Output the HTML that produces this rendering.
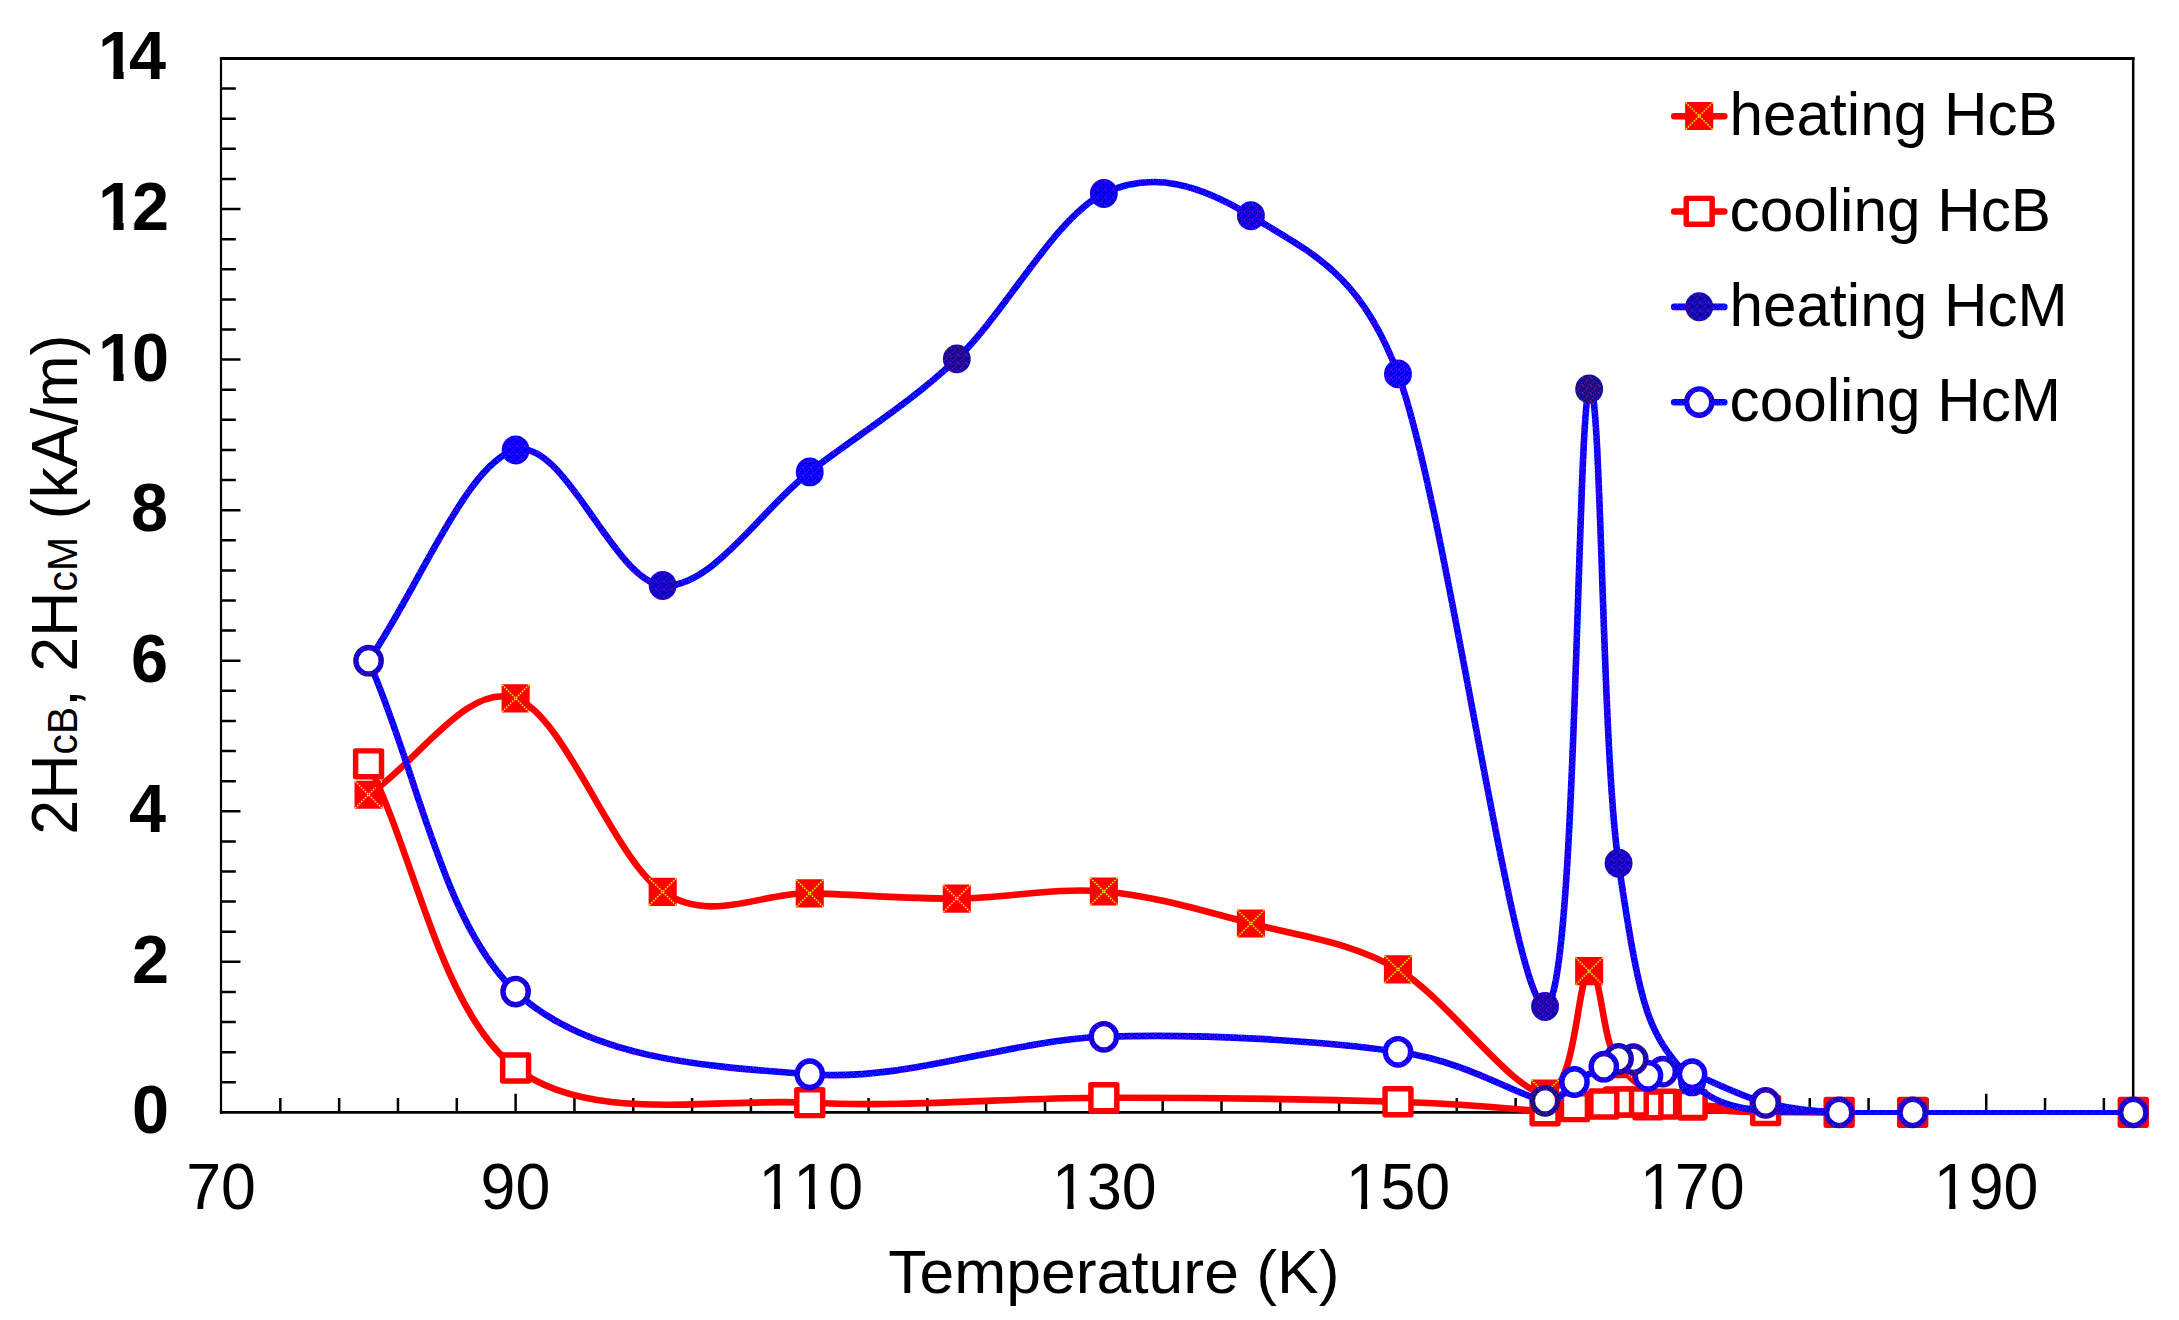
<!DOCTYPE html>
<html lang="en"><head><meta charset="utf-8"><title>Coercivity vs Temperature</title>
<style>html,body{margin:0;padding:0;background:#fff;}body{width:2179px;height:1320px;overflow:hidden;}svg{display:block;}text{font-family:"Liberation Sans",Arial,Helvetica,sans-serif;fill:#000;}.n{font-kerning:none;}</style></head><body>
<svg width="2179" height="1320" viewBox="0 0 2179 1320">
<defs>
<pattern id="bl" width="8" height="8" patternUnits="userSpaceOnUse"><rect width="8" height="8" fill="#0000ff"/><rect x="5" y="0" width="1" height="1" fill="#8000ff"/><rect x="1" y="1" width="1" height="1" fill="#000068"/><rect x="3" y="1" width="1" height="1" fill="#b000b0"/><rect x="5" y="1" width="1" height="1" fill="#000068"/><rect x="7" y="1" width="1" height="1" fill="#5a0048"/><rect x="0" y="3" width="1" height="1" fill="#6000ff"/><rect x="1" y="3" width="1" height="1" fill="#b000b0"/><rect x="3" y="3" width="1" height="1" fill="#00003a"/><rect x="5" y="3" width="1" height="1" fill="#000068"/><rect x="6" y="3" width="1" height="1" fill="#8000ff"/><rect x="7" y="3" width="1" height="1" fill="#000068"/><rect x="1" y="4" width="1" height="1" fill="#8000ff"/><rect x="4" y="4" width="1" height="1" fill="#6000ff"/><rect x="1" y="5" width="1" height="1" fill="#00003a"/><rect x="2" y="5" width="1" height="1" fill="#8000ff"/><rect x="3" y="5" width="1" height="1" fill="#5a0048"/><rect x="5" y="5" width="1" height="1" fill="#00003a"/><rect x="7" y="5" width="1" height="1" fill="#5a0048"/><rect x="6" y="6" width="1" height="1" fill="#8000ff"/><rect x="1" y="7" width="1" height="1" fill="#000068"/><rect x="3" y="7" width="1" height="1" fill="#00003a"/><rect x="5" y="7" width="1" height="1" fill="#5a0048"/><rect x="7" y="7" width="1" height="1" fill="#00003a"/></pattern>
<g id="fs"><rect x="-14.05" y="-14.05" width="28.1" height="28.1" rx="0.8" fill="#ff0000"/><path d="M-13.5 -13.5L13.5 13.5M13.5 -13.5L-13.5 13.5" stroke="#f4f400" stroke-width="1.5" stroke-dasharray="1.6 1.2" fill="none"/></g>
<rect id="os" x="-12.95" y="-12.95" width="25.9" height="25.9" fill="#fff" stroke="#ff0000" stroke-width="5.45" stroke-linejoin="round"/>
<ellipse id="fc" rx="13.95" ry="14.45" fill="url(#bl)"/>
<ellipse id="oc" rx="12.65" ry="13.2" fill="#fff" stroke="url(#bl)" stroke-width="5.4"/>
</defs>
<rect width="2179" height="1320" fill="#fff"/>
<g stroke="#000" fill="none" stroke-linecap="butt">
<line x1="221" y1="57" x2="221" y2="1113.8" stroke-width="2.2"/>
<line x1="219.9" y1="1112.4" x2="2134.5" y2="1112.4" stroke-width="2.7"/>
<line x1="219.9" y1="58.5" x2="2134.5" y2="58.5" stroke-width="3"/>
<line x1="2133.2" y1="57" x2="2133.2" y2="1113.8" stroke-width="2.5"/>
<path d="M221 1082.29H235.8M221 1052.18H235.8M221 1022.06H235.8M221 991.95H235.8M221 961.84H240.5M221 931.73H235.8M221 901.62H235.8M221 871.50H235.8M221 841.39H235.8M221 811.28H240.5M221 781.17H235.8M221 751.06H235.8M221 720.94H235.8M221 690.83H235.8M221 660.72H240.5M221 630.61H235.8M221 600.50H235.8M221 570.38H235.8M221 540.27H235.8M221 510.16H240.5M221 480.05H235.8M221 449.94H235.8M221 419.82H235.8M221 389.71H235.8M221 359.60H240.5M221 329.49H235.8M221 299.38H235.8M221 269.26H235.8M221 239.15H235.8M221 209.04H240.5M221 178.93H235.8M221 148.82H235.8M221 118.70H235.8M221 88.59H235.8M280.32 1112.4V1098.0M339.15 1112.4V1098.0M397.97 1112.4V1098.0M456.80 1112.4V1098.0M515.62 1112.4V1093.8M574.44 1112.4V1098.0M633.27 1112.4V1098.0M692.09 1112.4V1098.0M750.92 1112.4V1098.0M809.74 1112.4V1093.8M868.56 1112.4V1098.0M927.39 1112.4V1098.0M986.21 1112.4V1098.0M1045.04 1112.4V1098.0M1103.86 1112.4V1093.8M1162.68 1112.4V1098.0M1221.51 1112.4V1098.0M1280.33 1112.4V1098.0M1339.16 1112.4V1098.0M1397.98 1112.4V1093.8M1456.80 1112.4V1098.0M1515.63 1112.4V1098.0M1574.45 1112.4V1098.0M1633.28 1112.4V1098.0M1692.10 1112.4V1093.8M1750.92 1112.4V1098.0M1809.75 1112.4V1098.0M1868.57 1112.4V1098.0M1927.40 1112.4V1098.0M1986.22 1112.4V1093.8M2045.04 1112.4V1098.0M2103.87 1112.4V1098.0" stroke-width="2.5"/>
</g>
<path d="M368.56 794.72C417.58 762.60 466.60 682.17 515.62 698.36C564.64 714.55 613.66 859.33 662.68 891.83C711.70 924.33 760.72 892.21 809.74 893.34C858.76 894.46 907.78 898.92 956.80 898.60C1005.82 898.29 1054.84 887.31 1103.86 891.45C1152.88 895.59 1201.90 910.46 1250.92 923.45C1299.94 936.43 1348.96 941.01 1397.98 969.37C1447.00 997.72 1513.18 1093.28 1545.04 1093.58C1576.90 1093.88 1576.90 976.07 1589.16 971.17C1601.41 966.28 1601.41 1041.62 1618.57 1064.22C1635.73 1086.82 1655.34 1098.72 1692.10 1106.75C1728.86 1114.78 1802.39 1111.46 1839.16 1112.40" fill="none" stroke="#ff0000" stroke-width="6.6" stroke-linejoin="round" stroke-linecap="round"/>
<path d="M1839.16 1112.50L1912.69 1112.50L2133.28 1112.50" fill="none" stroke="#ff0000" stroke-width="4.9" stroke-linejoin="round" stroke-linecap="butt" transform="translate(0 0.01)"/>
<use href="#fs" x="368.56" y="794.72"/>
<use href="#fs" x="515.62" y="698.36"/>
<use href="#fs" x="662.68" y="891.83"/>
<use href="#fs" x="809.74" y="893.34"/>
<use href="#fs" x="956.80" y="898.60"/>
<use href="#fs" x="1103.86" y="891.45"/>
<use href="#fs" x="1250.92" y="923.45"/>
<use href="#fs" x="1397.98" y="969.37"/>
<use href="#fs" x="1545.04" y="1093.58"/>
<use href="#fs" x="1589.16" y="971.17"/>
<use href="#fs" x="1618.57" y="1064.22"/>
<use href="#fs" x="1692.10" y="1106.75"/>
<use href="#fs" x="1839.16" y="1112.40"/>
<use href="#fs" x="1912.69" y="1112.40"/>
<use href="#fs" x="2133.28" y="1112.40"/>
<path d="M1839.16 1112.40C1814.65 1112.09 1790.14 1111.85 1765.63 1110.52C1741.12 1109.19 1709.26 1105.49 1692.10 1104.42C1677.42 1103.51 1670.04 1104.04 1662.69 1104.12C1655.33 1104.19 1652.88 1105.22 1647.98 1104.87C1643.08 1104.52 1638.18 1102.49 1633.28 1102.01C1628.37 1101.53 1623.47 1101.67 1618.57 1102.01C1613.67 1102.35 1611.22 1103.27 1603.86 1104.04C1596.51 1104.82 1584.26 1105.54 1574.45 1106.68C1564.65 1107.82 1559.89 1111.31 1545.04 1110.89C1515.63 1110.08 1471.51 1103.98 1397.98 1101.79C1324.45 1099.59 1201.90 1097.57 1103.86 1097.72C1005.82 1097.87 907.78 1107.64 809.74 1102.69C711.70 1097.73 589.15 1124.46 515.62 1067.98C442.09 1011.51 417.58 865.23 368.56 763.85" fill="none" stroke="#ff0000" stroke-width="6.6" stroke-linejoin="round" stroke-linecap="round"/>
<path d="M2133.28 1112.50L1912.69 1112.50L1839.16 1112.50" fill="none" stroke="#ff0000" stroke-width="4.9" stroke-linejoin="round" stroke-linecap="butt" transform="translate(0 0.01)"/>
<use href="#os" x="2133.28" y="1112.40"/>
<use href="#os" x="1912.69" y="1112.40"/>
<use href="#os" x="1839.16" y="1112.40"/>
<use href="#os" x="1765.63" y="1110.52"/>
<use href="#os" x="1692.10" y="1104.42"/>
<use href="#os" x="1662.69" y="1104.12"/>
<use href="#os" x="1647.98" y="1104.87"/>
<use href="#os" x="1633.28" y="1102.01"/>
<use href="#os" x="1618.57" y="1102.01"/>
<use href="#os" x="1603.86" y="1104.04"/>
<use href="#os" x="1574.45" y="1106.68"/>
<use href="#os" x="1545.04" y="1110.89"/>
<use href="#os" x="1397.98" y="1101.79"/>
<use href="#os" x="1103.86" y="1097.72"/>
<use href="#os" x="809.74" y="1102.69"/>
<use href="#os" x="515.62" y="1067.98"/>
<use href="#os" x="368.56" y="763.85"/>
<path d="M368.56 660.72C417.58 590.46 466.60 462.48 515.62 449.94C564.64 437.39 613.66 581.78 662.68 585.44C711.70 589.10 760.72 509.68 809.74 471.92C858.76 434.15 907.78 405.26 956.80 358.85C1005.82 312.44 1054.84 217.30 1103.86 193.46C1152.88 169.62 1201.90 185.74 1250.92 215.82C1310.92 252.72 1360.34 272.72 1397.98 373.90C1447.00 505.68 1513.18 1003.97 1545.04 1006.48C1576.90 1008.99 1576.90 412.84 1589.16 388.96C1601.41 365.08 1601.41 747.73 1618.57 863.22C1641.77 1019.12 1648.10 1032.11 1692.10 1081.91C1728.86 1123.44 1802.39 1107.32 1839.16 1112.40" fill="none" stroke="url(#bl)" stroke-width="6.6" stroke-linejoin="round" stroke-linecap="round"/>
<path d="M1839.16 1112.50L1912.69 1112.50L2133.28 1112.50" fill="none" stroke="url(#bl)" stroke-width="4.9" stroke-linejoin="round" stroke-linecap="butt" transform="translate(0 0.01)"/>
<use href="#fc" x="368.56" y="660.72"/>
<use href="#fc" x="515.62" y="449.94"/>
<use href="#fc" x="662.68" y="585.44"/>
<use href="#fc" x="809.74" y="471.92"/>
<use href="#fc" x="956.80" y="358.85"/>
<use href="#fc" x="1103.86" y="193.46"/>
<use href="#fc" x="1250.92" y="215.82"/>
<use href="#fc" x="1397.98" y="373.90"/>
<use href="#fc" x="1545.04" y="1006.48"/>
<use href="#fc" x="1589.16" y="388.96"/>
<use href="#fc" x="1618.57" y="863.22"/>
<use href="#fc" x="1692.10" y="1081.91"/>
<use href="#fc" x="1839.16" y="1112.40"/>
<use href="#fc" x="1912.69" y="1112.40"/>
<use href="#fc" x="2133.28" y="1112.40"/>
<path d="M1839.16 1112.40C1814.65 1110.82 1790.14 1109.29 1765.63 1102.91C1741.12 1096.54 1709.26 1079.36 1692.10 1074.16C1677.98 1069.87 1670.04 1071.40 1662.69 1071.67C1655.33 1071.95 1652.88 1077.90 1647.98 1075.81C1643.08 1073.73 1638.18 1062.01 1633.28 1059.18C1628.37 1056.34 1623.47 1057.55 1618.57 1058.80C1613.67 1060.06 1611.22 1062.84 1603.86 1066.71C1596.51 1070.57 1584.26 1076.30 1574.45 1081.99C1564.65 1087.67 1562.25 1103.75 1545.04 1100.81C1515.63 1095.78 1471.51 1062.46 1397.98 1051.80C1324.45 1041.13 1201.90 1033.08 1103.86 1036.82C1005.82 1040.56 907.78 1081.77 809.74 1074.23C711.70 1066.69 589.15 1060.49 515.62 991.58C442.09 922.66 417.58 771.01 368.56 660.72" fill="none" stroke="url(#bl)" stroke-width="6.6" stroke-linejoin="round" stroke-linecap="round"/>
<path d="M2133.28 1112.50L1912.69 1112.50L1839.16 1112.50" fill="none" stroke="url(#bl)" stroke-width="4.9" stroke-linejoin="round" stroke-linecap="butt" transform="translate(0 0.01)"/>
<use href="#oc" x="2133.28" y="1112.40"/>
<use href="#oc" x="1912.69" y="1112.40"/>
<use href="#oc" x="1839.16" y="1112.40"/>
<use href="#oc" x="1765.63" y="1102.91"/>
<use href="#oc" x="1692.10" y="1074.16"/>
<use href="#oc" x="1662.69" y="1071.67"/>
<use href="#oc" x="1647.98" y="1075.81"/>
<use href="#oc" x="1633.28" y="1059.18"/>
<use href="#oc" x="1618.57" y="1058.80"/>
<use href="#oc" x="1603.86" y="1066.71"/>
<use href="#oc" x="1574.45" y="1081.99"/>
<use href="#oc" x="1545.04" y="1100.81"/>
<use href="#oc" x="1397.98" y="1051.80"/>
<use href="#oc" x="1103.86" y="1036.82"/>
<use href="#oc" x="809.74" y="1074.23"/>
<use href="#oc" x="515.62" y="991.58"/>
<use href="#oc" x="368.56" y="660.72"/>
<path d="M1674.2 116.20L1724.3 116.21" stroke="#ff0000" stroke-width="6.6" stroke-linecap="round" fill="none"/>
<use href="#fs" x="1699.2" y="116.0"/>
<text transform="translate(1729.6 135.3) scale(1.0040 1.0280)" font-size="60.0">heating HcB</text>
<path d="M1674.2 211.50L1724.3 211.51" stroke="#ff0000" stroke-width="6.6" stroke-linecap="round" fill="none"/>
<use href="#os" x="1699.2" y="211.3"/>
<text transform="translate(1729.6 230.6) scale(1.0040 1.0280)" font-size="60.0">cooling HcB</text>
<path d="M1674.2 306.90L1724.3 306.91" stroke="url(#bl)" stroke-width="6.6" stroke-linecap="round" fill="none"/>
<use href="#fc" x="1699.2" y="306.7"/>
<text transform="translate(1729.6 326.0) scale(1.0040 1.0280)" font-size="60.0">heating HcM</text>
<path d="M1674.2 402.30L1724.3 402.31" stroke="url(#bl)" stroke-width="6.6" stroke-linecap="round" fill="none"/>
<use href="#oc" x="1699.2" y="402.1"/>
<text transform="translate(1729.6 421.4) scale(1.0040 1.0280)" font-size="60.0">cooling HcM</text>
<text class="n" transform="translate(132.10 1133.40) scale(1 1.042)" font-size="66.6" font-weight="bold">0</text>
<text class="n" transform="translate(132.10 982.84) scale(1 1.042)" font-size="66.6" font-weight="bold">2</text>
<text class="n" transform="translate(129.10 832.28) scale(1 1.042)" font-size="66.6" font-weight="bold">4</text>
<text class="n" transform="translate(131.10 681.72) scale(1 1.042)" font-size="66.6" font-weight="bold">6</text>
<text class="n" transform="translate(131.10 531.16) scale(1 1.042)" font-size="66.6" font-weight="bold">8</text>
<clipPath id="k1"><rect x="-5" y="-66.6" width="83.2" height="59.0"/><rect x="15.40" y="-8.1" width="10.20" height="10.6"/><rect x="38.30" y="-8.1" width="39.04" height="10.6"/></clipPath>
<text class="n" transform="translate(98.00 380.60) scale(1 1.042)" font-size="66.6" font-weight="bold" letter-spacing="-2.94" clip-path="url(#k1)">10</text>
<clipPath id="k2"><rect x="-5" y="-66.6" width="83.2" height="59.0"/><rect x="15.40" y="-8.1" width="10.20" height="10.6"/><rect x="35.30" y="-8.1" width="39.04" height="10.6"/></clipPath>
<text class="n" transform="translate(98.00 230.04) scale(1 1.042)" font-size="66.6" font-weight="bold" letter-spacing="-2.94" clip-path="url(#k2)">12</text>
<clipPath id="k3"><rect x="-5" y="-66.6" width="77.2" height="59.0"/><rect x="15.40" y="-8.1" width="10.20" height="10.6"/><rect x="52.30" y="-8.1" width="39.04" height="10.6"/></clipPath>
<text class="n" transform="translate(98.00 79.48) scale(1 1.042)" font-size="66.6" font-weight="bold" letter-spacing="-5.94" clip-path="url(#k3)">14</text>
<text class="n" transform="translate(186.16 1208.90) scale(1 1.047)" font-size="62.7">70</text>
<text class="n" transform="translate(480.61 1208.90) scale(1 1.047)" font-size="62.7">90</text>
<clipPath id="k4"><rect x="-5" y="-62.7" width="119.6" height="57.1"/><rect x="15.40" y="-6.1" width="6.20" height="8.6"/><rect x="50.27" y="-6.1" width="6.20" height="8.6"/><rect x="73.94" y="-6.1" width="36.87" height="8.6"/></clipPath>
<text class="n" transform="translate(758.48 1208.90) scale(1 1.047)" font-size="62.7" clip-path="url(#k4)">110</text>
<clipPath id="k5"><rect x="-5" y="-62.7" width="119.6" height="57.1"/><rect x="15.40" y="-6.1" width="6.20" height="8.6"/><rect x="38.07" y="-6.1" width="36.87" height="8.6"/><rect x="73.94" y="-6.1" width="36.87" height="8.6"/></clipPath>
<text class="n" transform="translate(1052.03 1208.90) scale(1 1.047)" font-size="62.7" clip-path="url(#k5)">130</text>
<clipPath id="k6"><rect x="-5" y="-62.7" width="119.6" height="57.1"/><rect x="15.40" y="-6.1" width="6.20" height="8.6"/><rect x="37.07" y="-6.1" width="36.87" height="8.6"/><rect x="73.94" y="-6.1" width="36.87" height="8.6"/></clipPath>
<text class="n" transform="translate(1345.63 1208.90) scale(1 1.047)" font-size="62.7" clip-path="url(#k6)">150</text>
<clipPath id="k7"><rect x="-5" y="-62.7" width="119.6" height="57.1"/><rect x="15.40" y="-6.1" width="6.20" height="8.6"/><rect x="45.07" y="-6.1" width="36.87" height="8.6"/><rect x="73.94" y="-6.1" width="36.87" height="8.6"/></clipPath>
<text class="n" transform="translate(1639.93 1208.90) scale(1 1.047)" font-size="62.7" clip-path="url(#k7)">170</text>
<clipPath id="k8"><rect x="-5" y="-62.7" width="119.6" height="57.1"/><rect x="15.40" y="-6.1" width="6.20" height="8.6"/><rect x="39.07" y="-6.1" width="36.87" height="8.6"/><rect x="73.94" y="-6.1" width="36.87" height="8.6"/></clipPath>
<text class="n" transform="translate(1933.83 1208.90) scale(1 1.047)" font-size="62.7" clip-path="url(#k8)">190</text>
<text transform="translate(1113.9 1293.0) scale(1.0105 1.0)" font-size="61.8" text-anchor="middle">Temperature (K)</text>
<text transform="translate(76.9 834.8) rotate(-90) scale(0.9975 1.025)" font-size="63">2H<tspan font-size="41">cB</tspan>, 2H<tspan font-size="41">cM</tspan> (kA/m)</text>
</svg></body></html>
